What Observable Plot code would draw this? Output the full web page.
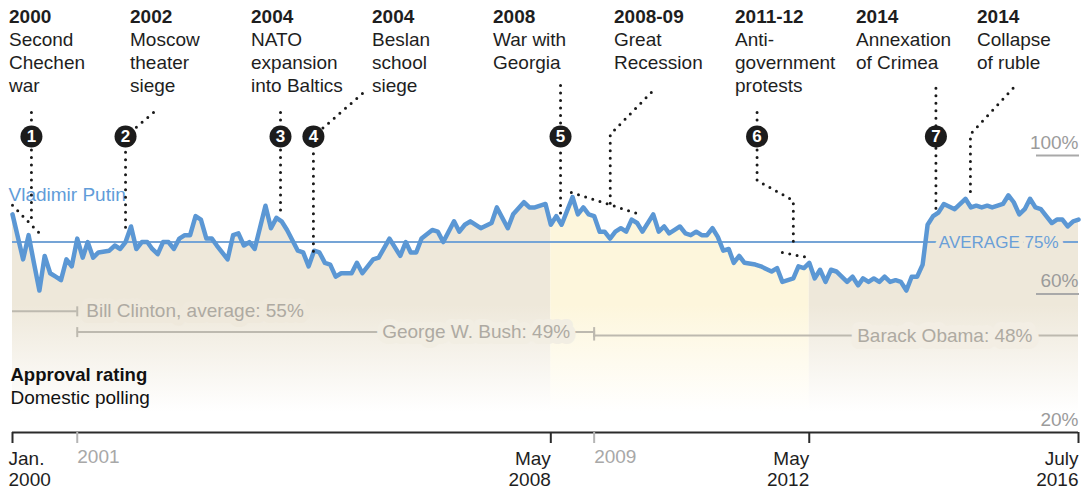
<!DOCTYPE html>
<html><head><meta charset="utf-8">
<script src="https://cdn.jsdelivr.net/npm/d3@7"></script>
<script src="https://cdn.jsdelivr.net/npm/@observablehq/plot@0.6"></script>
<style>
html,body{margin:0;padding:0;background:#fff;}
#wrap{position:relative;width:1089px;height:489px;font-family:"Liberation Sans",Arial,sans-serif;}
#events{position:absolute;left:9px;top:5px;display:grid;grid-template-columns:repeat(9,121px);pointer-events:none;}
.ev{font-size:19px;line-height:23px;color:#1e1e1e;white-space:pre-line;}
.ev b{display:block;}
</style></head><body>
<div id="wrap"><div id="chart"></div><div id="events"></div></div>
<script>
// ---- data ----
const months = ["2000-01","2000-03","2000-04","2000-05","2000-06","2000-07","2000-08","2000-09","2000-10","2000-11","2000-12",
"2001-01","2001-02","2001-03","2001-04","2001-05","2001-07","2001-08","2001-09","2001-10","2001-11","2001-12",
"2002-01","2002-02","2002-03","2002-04","2002-05","2002-06","2002-07","2002-08","2002-09","2002-10","2002-11","2002-12",
"2003-01","2003-02","2003-03","2003-05","2003-06","2003-07","2003-08","2003-09","2003-10","2003-12",
"2004-01","2004-02","2004-03","2004-04","2004-06","2004-07","2004-08","2004-09","2004-10","2004-11","2004-12",
"2005-01","2005-02","2005-04","2005-05","2005-06","2005-08","2005-09","2005-11",
"2006-01","2006-02","2006-03","2006-04","2006-05","2006-07","2006-08","2006-09","2006-11","2006-12",
"2007-01","2007-02","2007-04","2007-06","2007-07","2007-09","2007-10","2007-12",
"2008-01","2008-02","2008-04","2008-05","2008-06","2008-07","2008-08","2008-09","2008-10","2008-11","2008-12",
"2009-01","2009-02","2009-03","2009-04","2009-05","2009-06","2009-07","2009-08","2009-09","2009-10","2009-12",
"2010-01","2010-02","2010-03","2010-04","2010-05","2010-06","2010-07","2010-08","2010-09","2010-10","2010-11","2010-12",
"2011-01","2011-02","2011-03","2011-04","2011-05","2011-07","2011-08","2011-10","2011-11","2011-12",
"2012-02","2012-03","2012-04","2012-05","2012-06","2012-07","2012-08","2012-09","2012-10","2012-12",
"2013-01","2013-02","2013-03","2013-04","2013-05","2013-06","2013-07","2013-08","2013-09","2013-10","2013-11","2013-12",
"2014-01","2014-02","2014-03","2014-04","2014-05","2014-06","2014-08","2014-10","2014-11","2014-12",
"2015-01","2015-02","2015-03","2015-04","2015-05","2015-06","2015-07","2015-08","2015-09","2015-10","2015-11","2015-12",
"2016-01","2016-02","2016-03","2016-04","2016-05","2016-06","2016-07"];
const approval = [83,70,77,69,61,71,66,65,64,70,68,
76,70.5,75,70.5,72,72.5,74,73,75,79.5,73,
75,75,73,71.5,75,75,73,76,77,77,82.5,81.5,
76,76,74,70,77,77.5,74,75,73,85.5,
79,82,81,78.5,72.5,72,68,72.5,72,69,68.5,
65,66,66,69,66,70,70.5,76,
71,75,72,72,76,78.5,78,75,81,78,
80,81,79,80.5,85,79,83,86.5,
85,85,86,80,82.5,80,84,88,83,85,83,
82.5,78,78,76,78,79,78,81.5,80.5,78,83,
78,79.5,77.5,78.5,79.5,77.5,77,78,77,77,79,76.5,
72.5,73,69,71,69,68.5,68,66.5,67.5,63.5,
64.5,68,67.5,69,64.5,67,63.5,67,66.5,63.5,
65,62.5,64.5,63.5,64.5,63.5,65,63.5,64,63.5,61,65,
65,68.5,80,82.5,83.5,86,84.5,87.5,85,85.5,
85,85.5,85,85.5,86,88.5,86.5,83,84.5,87.5,85,84.5,
82.5,80.5,81.5,81.5,79.5,81,81.5];
const averageApproval = 75;

const periodStarts = ["2000-01","2008-05","2012-05"];
const periodEnds   = ["2008-05","2012-05","2016-07"];
const periodLeaders = ["Putin","Medvedev","Putin"];

const presidentNames = ["Bill Clinton","George W. Bush","Barack Obama"];
const presidentLabels = ["Bill Clinton, average: 55%","George W. Bush: 49%","Barack Obama: 48%"];
const presidentStarts = ["1993-01-01","2001-01-01","2009-01-01"];
const presidentEnds   = ["2001-01-01","2009-01-01","2017-01-01"];
const presidentAverages = [55,49,48];

const eventYears = ["2000","2002","2004","2004","2008","2008-09","2011-12","2014","2014"];
const eventTexts = ["Second\nChechen\nwar","Moscow\ntheater\nsiege","NATO\nexpansion\ninto Baltics","Beslan\nschool\nsiege","War with\nGeorgia","Great\nRecession","Anti-\ngovernment\nprotests","Annexation\nof Crimea","Collapse\nof ruble"];

const markerNumbers = ["1","2","3","4","5","6","7"];
const markerDates = ["2000-04-17","2001-10-01","2004-02-24","2004-08-28","2008-06-25","2011-07-11","2014-04-17"];

const leaderKeys = ["1","1","1r","1r","2","2","2","3","3","4","4","4","5","5","6","6","6","6r","6r","7","7","7","7","7r","7r","8","8","9","9","9"];
const leaderDates = ["2000-04-17","2000-04-17","2000-01-01","2000-06-13","2002-03-08","2001-10-01","2001-10-01","2004-02-24","2004-02-24","2005-06-01","2004-08-28","2004-08-28","2008-06-25","2008-06-25","2009-11-20","2009-04-02","2009-04-02","2008-08-25","2009-09-19","2011-07-11","2011-07-11","2012-02-01","2012-02-01","2011-12-01","2012-04-26","2014-04-17","2014-04-17","2015-06-27","2014-10-29","2014-10-29"];
const leaderValues = [112.4,80.1,85.6,76.9,112.4,105.5,77.8,112.4,83.0,117.9,105.5,70.3,120.2,81.8,118.2,106.1,85.6,89.3,83.0,112.4,92.8,87.0,73.1,72.0,70.5,119.4,84.7,119.4,106.1,87.6];

const axisDates = ["2000-01","2001-01","2008-05","2009-01","2012-05","2016-07"];
const axisLabels = ["Jan.\n2000","2001","May\n2008","2009","May\n2012","July\n2016"];
const axisMajor = [true,false,true,false,true,true];

const yTicks = [20,60,100];
const yTickLabels = ["20%","60%","100%"];
const yUnderlined = [60,100];

// ---- layout ----
const W = 1089, H = 489, ML = 12, MR = 11, MT = 155, MB = 57;
const G0 = 305, G1 = 412;               // vertical fade of the shaded areas (px)
const BEIGE = "#eee8da", YELLOW = "#fdf6dc";

// ---- build ----
const pm = d3.utcParse("%Y-%m"), pd = d3.utcParse("%Y-%m-%d");
const series = months.map((m,i)=>({date:pm(m), value:approval[i]}));
const periods = periodStarts.map((s,i)=>({start:pm(s), end:pm(periodEnds[i]), who:periodLeaders[i]}));
const pres = presidentNames.map((n,i)=>({name:n, label:presidentLabels[i], start:pd(presidentStarts[i]), end:pd(presidentEnds[i]), avg:presidentAverages[i]}));
const presTicks = pres.flatMap(p=>[{date:p.start, avg:p.avg},{date:p.end, avg:p.avg}]);
const markers = markerNumbers.map((n,i)=>({n, date:pd(markerDates[i])}));
const leaders = leaderKeys.map((k,i)=>({key:k, date:pd(leaderDates[i]), v:leaderValues[i]}));
const axisTicks = axisDates.map((d,i)=>({date:pm(d), label:axisLabels[i], major:axisMajor[i]}));
const xStart = pm(axisDates[0]), xEnd = pm(axisDates[axisDates.length-1]);

// background colour behind a label at value v (to mask lines under text)
const yPx = d3.scaleLinear([20,100],[H-MB, MT]);
const haloAt = (v, base) => d3.interpolateRgb(base, "#fff")(Math.max(0, Math.min(1, (yPx(v)-G0)/(G1-G0))));

const BLUE = "#5b97d4", GREY = "#bdb9af", GREYTXT = "#aeaaa2";
const fillFor = who => who === "Putin" ? "url(#fadeBeige)" : "url(#fadeYellow)";

function gradients(){
  const defs = d3.create("svg:defs");
  [["fadeBeige",BEIGE],["fadeYellow",YELLOW]].forEach(([id,c])=>{
    const g = defs.append("linearGradient").attr("id",id).attr("gradientUnits","userSpaceOnUse")
      .attr("x1",0).attr("x2",0).attr("y1",G0).attr("y2",G1);
    g.append("stop").attr("offset",0).attr("stop-color",c);
    g.append("stop").attr("offset",1).attr("stop-color",c).attr("stop-opacity",0);
  });
  return defs.node();
}
const vtick = {draw(ctx,size){const r=Math.sqrt(size/Math.PI);ctx.moveTo(0,-r);ctx.lineTo(0,r);}};
const presText = (p, opts) => Plot.text([p], {y:"avg", text:"label", fill:GREYTXT, fontSize:19, stroke:haloAt(p.avg, BEIGE), strokeWidth:12, strokeLinejoin:"round", paintOrder:"stroke", ...opts});

const chart = Plot.plot({
  width:W, height:H, marginLeft:ML, marginRight:MR, marginTop:MT, marginBottom:MB,
  style:{fontFamily:'"Liberation Sans", Arial, sans-serif', fontSize:"19px", background:"#fff"},
  x:{type:"utc", domain:[xStart,xEnd]},
  y:{domain:[20,100]},
  marks:[
    gradients,
    ...periods.map(p=>Plot.areaY(series.filter(d=>d.date>=p.start && d.date<=p.end),{x:"date", y1:20, y2:"value", fill:fillFor(p.who)})),
    // presidents
    Plot.ruleY(pres,{y:"avg", x1:"start", x2:"end", stroke:GREY, strokeWidth:2, clip:true}),
    Plot.dot(presTicks,{x:"date", y:"avg", symbol:vtick, r:5, fill:"none", stroke:GREY, strokeWidth:2, clip:true}),
    presText(pres[0], {x:"end", textAnchor:"start", dx:9}),
    presText(pres[1], {x:"end", textAnchor:"end", dx:-24}),
    presText(pres[2], {x:()=>xEnd, textAnchor:"end", dx:-46, strokeWidth:14}),
    // average
    Plot.ruleY([averageApproval],{stroke:"#75a4d6", strokeWidth:2}),
    Plot.text([averageApproval],{y:d=>d, text:d=>`AVERAGE ${d}%`, frameAnchor:"right", textAnchor:"end", dx:-20, fill:"#6a9fd8", fontSize:17, stroke:haloAt(averageApproval, BEIGE), strokeWidth:10, strokeLinejoin:"round", paintOrder:"stroke"}),
    // putin line
    Plot.lineY(series,{x:"date", y:"value", stroke:BLUE, strokeWidth:4.5, strokeLinejoin:"round", strokeLinecap:"round"}),
    Plot.text(["Vladimir Putin"],{text:d=>d, frameAnchor:"top-left", textAnchor:"start", dx:-4, dy:32, fill:"#619cd9", fontSize:19}),
    // leaders and markers
    Plot.line(leaders,{x:"date", y:"v", z:"key", stroke:"#1a1a1a", strokeWidth:3, strokeDasharray:"0 7.5", strokeLinecap:"round", strokeLinejoin:"round"}),
    Plot.dot(markers,{x:"date", frameAnchor:"top", dy:-19, r:11, fill:"#1c1c1c", stroke:"none"}),
    Plot.text(markers,{x:"date", text:"n", frameAnchor:"top", lineAnchor:"middle", dy:-19, fill:"#fff", fontSize:17, fontWeight:"bold"}),
    // y labels
    Plot.axisY({anchor:"right", ticks:yUnderlined, tickSize:-43, tickFormat:()=>"", stroke:"#a9a9a9", strokeWidth:2, label:null}),
    Plot.text(yTicks,{y:d=>d, text:(d,i)=>yTickLabels[i], frameAnchor:"right", textAnchor:"end", dy:-13, fill:"#9b9b9b", fontSize:19}),
    // x axis
    Plot.ruleY([20],{stroke:"#2b2b2b", strokeWidth:2}),
    Plot.axisX({ticks:axisTicks.filter(d=>d.major).map(d=>d.date), tickSize:11, tickFormat:()=>"", stroke:"#2b2b2b", strokeWidth:2, label:null}),
    Plot.axisX({ticks:axisTicks.filter(d=>!d.major).map(d=>d.date), tickSize:11, tickFormat:()=>"", stroke:"#b5b5b5", strokeWidth:2, label:null}),
    Plot.text(axisTicks.filter((d,i)=>i===0),{x:"date", text:"label", frameAnchor:"bottom", textAnchor:"start", lineAnchor:"top", dx:-4, dy:17, lineHeight:1.12, fill:"#1e1e1e", fontSize:19}),
    Plot.text(axisTicks.filter((d,i)=>i>0 && d.major),{x:"date", text:"label", frameAnchor:"bottom", textAnchor:"end", lineAnchor:"top", dy:17, lineHeight:1.12, fill:"#1e1e1e", fontSize:19}),
    Plot.text(axisTicks.filter(d=>!d.major),{x:"date", text:"label", frameAnchor:"bottom", textAnchor:"start", lineAnchor:"top", dy:17, fill:"#a8a8a8", fontSize:19}),
    // caption inside chart
    Plot.text(["Approval rating"],{text:d=>d, frameAnchor:"bottom-left", textAnchor:"start", dx:-2, dy:-52, fontWeight:"bold", fill:"#111", fontSize:18.5}),
    Plot.text(["Domestic polling"],{text:d=>d, frameAnchor:"bottom-left", textAnchor:"start", dx:-2, dy:-29, fill:"#111", fontSize:19})
  ]
});
document.getElementById("chart").appendChild(chart);

const ev = d3.select("#events");
eventYears.forEach((y,i)=>{
  const d = ev.append("div").attr("class","ev");
  d.append("b").text(y);
  d.append("span").text(eventTexts[i]);
});
</script>
</body></html>
